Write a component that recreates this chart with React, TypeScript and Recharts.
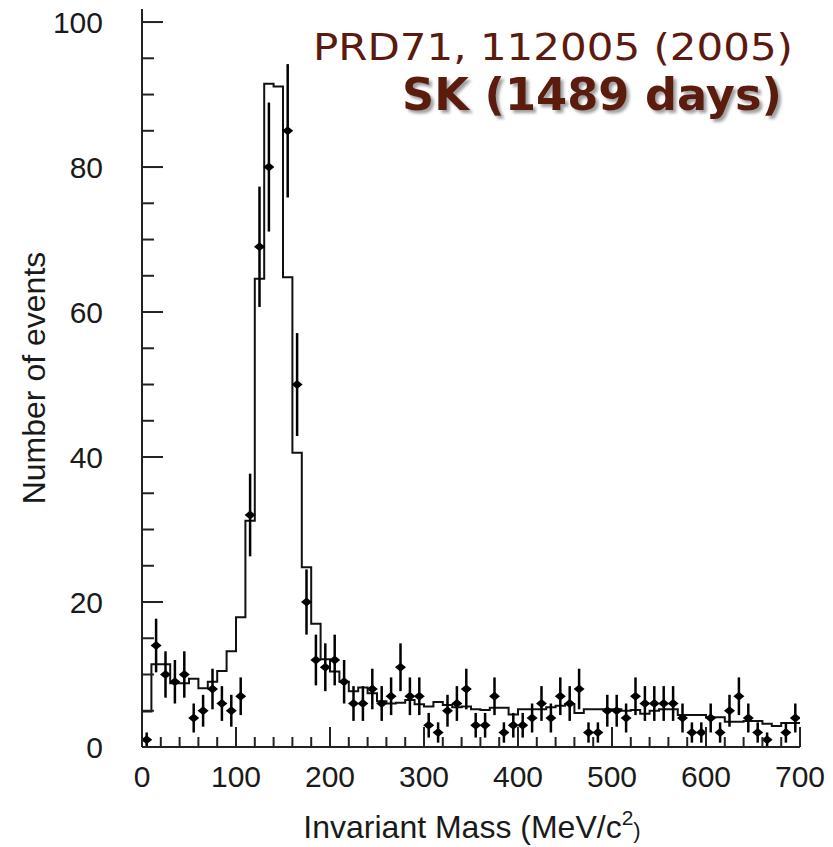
import React from 'react';
import { ComposedChart, Line, Scatter, ErrorBar, XAxis, YAxis } from 'recharts';

// 10 MeV bins from 0 to 700 MeV/c^2
const binWidth = 10;

// MC expectation (histogram), one value per bin
const mcCounts = [
  4.9, 11.4, 11.4, 8.8, 8.8, 9.4, 8.1, 9.0, 10.5, 13.2,
  17.9, 31.2, 64.6, 91.5, 91.1, 64.8, 40.6, 24.8, 17.0, 12.1,
  10.4, 9.0, 7.7, 8.2, 7.4, 6.3, 6.0, 6.1, 6.5, 5.9,
  5.6, 6.2, 5.8, 5.5, 5.6, 5.2, 5.1, 5.4, 5.4, 4.5,
  5.2, 5.2, 5.2, 5.5, 5.7, 5.9, 4.7, 5.2, 5.2, 5.2,
  5.2, 5.0, 5.1, 4.6, 5.0, 5.2, 5.2, 4.4, 4.4, 4.4,
  4.1, 4.1, 3.5, 3.5, 3.6, 3.6, 3.2, 2.9, 3.3, 3.3,
];

// observed events per bin (null = no marker drawn)
const dataCounts: (number | null)[] = [
  1, 14, 10, 9, 10, 4, 5, 8, 6, 5,
  7, 32, 69, 80, null, 85, 50, 20, 12, 11,
  12, 9, 6, 6, 8, 6, 7, 11, 7, 7,
  3, 2, 5, 6, 8, 3, 3, 7, 2, 3,
  3, 4, 6, 4, 7, 6, 8, 2, 2, 5,
  5, 4, 7, 6, 6, 6, 6, 4, 2, 2,
  4, 2, 5, 7, 4, 2, 1, null, 2, 4,
];

// vertical error bar half-lengths
const dataErrors = [
  1.0, 3.7, 3.2, 3.0, 3.2, 2.0, 2.2, 2.8, 2.4, 2.2,
  2.6, 5.7, 8.3, 8.9, 0, 9.2, 7.1, 4.5, 3.5, 3.3,
  3.5, 3.0, 2.4, 2.4, 2.8, 2.4, 2.6, 3.3, 2.6, 2.6,
  1.7, 1.4, 2.2, 2.4, 2.8, 1.7, 1.7, 2.6, 1.4, 1.7,
  1.7, 2.0, 2.4, 2.0, 2.6, 2.4, 2.8, 1.4, 1.4, 2.2,
  2.2, 2.0, 2.6, 2.4, 2.4, 2.4, 2.4, 2.0, 1.4, 1.4,
  2.0, 1.4, 2.2, 2.6, 2.0, 1.4, 1.0, 0, 1.4, 2.0,
];

const xTicks = [
  0, 20, 40, 60, 80, 100, 120, 140, 160, 180, 200, 220, 240, 260, 280, 300, 320, 340,
  360, 380, 400, 420, 440, 460, 480, 500, 520, 540, 560, 580, 600, 620, 640, 660, 680, 700,
];
const yTicks = [0, 5, 10, 15, 20, 25, 30, 35, 40, 45, 50, 55, 60, 65, 70, 75, 80, 85, 90, 95, 100];

const histData = mcCounts
  .map((v, i) => ({ x: i * binWidth, mc: v }))
  .concat([{ x: mcCounts.length * binWidth, mc: mcCounts[mcCounts.length - 1] }]);

const pointData = dataCounts
  .map((c, i) => ({ x: i * binWidth + binWidth / 2, count: c, err: dataErrors[i] }))
  .filter((d) => d.count !== null);

const W = 833;
const H = 847;
const PLOT_LEFT = 142;
const PLOT_BOTTOM = 747;
const axisColor = '#222';
const labelFont = '"Liberation Sans", Arial, sans-serif';
const noteColor = '#5c1a0f';

const XTick = (props: any) => {
  const { x, payload } = props;
  const v = payload.value;
  const major = v % 100 === 0;
  return (
    <g>
      <line x1={x} x2={x} y1={PLOT_BOTTOM} y2={PLOT_BOTTOM - (major ? 20 : 10)} stroke={axisColor} strokeWidth={2} />
      {major && (
        <text x={x} y={PLOT_BOTTOM + 40} textAnchor="middle" fontSize={30} fontFamily={labelFont} fill="#1a1a1a">
          {v}
        </text>
      )}
    </g>
  );
};

const YTick = (props: any) => {
  const { y, payload } = props;
  const v = payload.value;
  const major = v % 20 === 0;
  return (
    <g>
      <line x1={PLOT_LEFT} x2={PLOT_LEFT + (major ? 21 : 12)} y1={y} y2={y} stroke={axisColor} strokeWidth={2} />
      {major && (
        <text x={103} y={y + 11} textAnchor="end" fontSize={30} fontFamily={labelFont} fill="#1a1a1a">
          {v}
        </text>
      )}
    </g>
  );
};

const Diamond = (props: any) => {
  const { cx, cy } = props;
  return <path d={`M${cx - 5.5},${cy} L${cx},${cy - 4.5} L${cx + 5.5},${cy} L${cx},${cy + 4.5} Z`} fill="#000" />;
};

const App: React.FC = () => {
  return (
    <div style={{ position: 'absolute', left: 0, top: 0, width: W, height: H, background: '#fff' }}>
      <ComposedChart width={W} height={H} margin={{ top: 9, right: 33, bottom: 0, left: 0 }}>
        <XAxis
          xAxisId="top"
          orientation="top"
          type="number"
          domain={[0, 700]}
          height={0}
          tick={false}
          tickLine={false}
          axisLine={{ stroke: axisColor, strokeWidth: 2 }}
        />
        <YAxis
          yAxisId="right"
          orientation="right"
          type="number"
          domain={[0, 101.8]}
          width={0}
          tick={false}
          tickLine={false}
          axisLine={{ stroke: axisColor, strokeWidth: 2 }}
        />
        <XAxis
          dataKey="x"
          type="number"
          domain={[0, 700]}
          allowDataOverflow
          ticks={xTicks}
          interval={0}
          height={100}
          tickSize={0}
          tickLine={false}
          tick={<XTick />}
          axisLine={{ stroke: axisColor, strokeWidth: 2 }}
        />
        <YAxis
          type="number"
          domain={[0, 101.8]}
          allowDataOverflow
          ticks={yTicks}
          interval={0}
          width={142}
          tickSize={0}
          tickLine={false}
          tick={<YTick />}
          axisLine={{ stroke: axisColor, strokeWidth: 2 }}
        />
        <Line
          data={histData}
          dataKey="mc"
          type="stepAfter"
          stroke="#111"
          strokeWidth={2}
          dot={false}
          isAnimationActive={false}
        />
        <Scatter data={pointData} dataKey="count" shape={<Diamond />} isAnimationActive={false}>
          <ErrorBar dataKey="err" direction="y" width={0} stroke="#000" strokeWidth={2.5} isAnimationActive={false} />
        </Scatter>
      </ComposedChart>

      <svg width={W} height={H} style={{ position: 'absolute', left: 0, top: 0, pointerEvents: 'none' }}>
        <defs>
          <filter id="shadow" x="-5%" y="-20%" width="115%" height="150%">
            <feDropShadow dx="3" dy="3" stdDeviation="1.5" floodColor="#777" floodOpacity="0.7" />
          </filter>
        </defs>
        <text x={313} y={60} fontSize={38} fontFamily='"DejaVu Sans", Verdana, sans-serif' fill={noteColor} textLength={480} lengthAdjust="spacingAndGlyphs">
          PRD71, 112005 (2005)
        </text>
        <text x={402} y={110} fontSize={44} fontWeight="bold" fontFamily='"DejaVu Sans", Verdana, sans-serif' fill={noteColor} textLength={380} lengthAdjust="spacingAndGlyphs" filter="url(#shadow)">
          SK (1489 days)
        </text>
        <text x={45} y={378} transform="rotate(-90 45 378)" textAnchor="middle" fontSize={32} fontFamily={labelFont} fill="#1a1a1a">
          Number of events
        </text>
        <text x={472} y={838} textAnchor="middle" fontSize={32} fontFamily={labelFont} fill="#1a1a1a">
          Invariant Mass (MeV/c
          <tspan fontSize={21} dy={-13}>2</tspan>
          <tspan fontSize={22} dy={13}>)</tspan>
        </text>
      </svg>
    </div>
  );
};

export default App;
